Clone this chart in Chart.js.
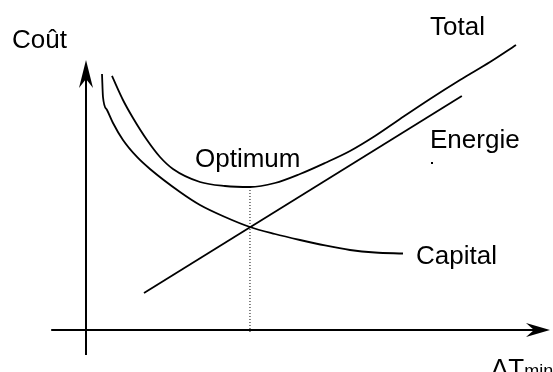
<!DOCTYPE html>
<html>
<head>
<meta charset="utf-8">
<script src="https://cdn.jsdelivr.net/npm/chart.js@4/dist/chart.umd.min.js"></script>
<style>
html,body{margin:0;padding:0;background:#fff;}
#wrap{width:553px;height:372px;}
</style>
</head>
<body>
<div id="wrap"><canvas id="c" width="553" height="372"></canvas></div>
<script>
// Data (ΔTmin and cost in arbitrary units)
const capitalX = [0.345, 0.366, 0.453, 0.582, 0.797, 1.099, 1.379, 2.026, 2.457, 2.996, 3.534, 4.073, 4.612, 5.151, 5.690, 6.228, 6.832];
const capitalY = [8.533, 7.767, 7.333, 6.900, 6.333, 5.767, 5.367, 4.600, 4.167, 3.767, 3.433, 3.200, 3.000, 2.817, 2.667, 2.583, 2.550];
const totalX = [0.560, 0.797, 1.013, 1.315, 1.595, 1.875, 2.457, 2.996, 3.534, 4.073, 4.612, 5.151, 5.690, 6.228, 6.767, 7.414, 8.060, 8.707, 9.267];
const totalY = [8.467, 7.667, 7.067, 6.333, 5.767, 5.367, 4.933, 4.800, 4.767, 4.900, 5.200, 5.567, 5.967, 6.467, 7.033, 7.700, 8.333, 8.933, 9.500];
const energyX = [1.25, 8.10];
const energyY = [1.23, 7.80];
const optimumX = [3.534, 3.534];
const optimumY = [4.767, -0.10];
const axisXRange = [-0.75, 10];
const axisYRange = [-0.83, 9];
const labels = {
  yTitle: "Coût", total: "Total", energy: "Energie", capital: "Capital",
  optimum: "Optimum", xTitle: "ΔT", xSub: "min"
};

const pts = (xs, ys) => xs.map((x, i) => ({x, y: ys[i]}));

const axesPlugin = {
  id: 'axesArrows',
  beforeDatasetsDraw(chart) {
    const ctx = chart.ctx, xs = chart.scales.x, ys = chart.scales.y;
    const x0 = xs.getPixelForValue(0), y0 = ys.getPixelForValue(0);
    const xl = xs.getPixelForValue(axisXRange[0]), xr = xs.getPixelForValue(axisXRange[1]);
    const yb = ys.getPixelForValue(axisYRange[0]), yt = ys.getPixelForValue(axisYRange[1]);
    ctx.save();
    ctx.strokeStyle = '#000'; ctx.fillStyle = '#000'; ctx.lineWidth = 2;
    ctx.beginPath();
    ctx.moveTo(xl, y0); ctx.lineTo(xr - 10, y0);
    ctx.moveTo(x0, yb); ctx.lineTo(x0, yt + 10);
    ctx.stroke();
    ctx.beginPath();
    ctx.moveTo(xr, y0); ctx.lineTo(xr - 24, y0 - 7); ctx.lineTo(xr - 16, y0); ctx.lineTo(xr - 24, y0 + 7); ctx.closePath();
    ctx.fill();
    ctx.beginPath();
    ctx.moveTo(x0, yt); ctx.lineTo(x0 - 7, yt + 28); ctx.lineTo(x0, yt + 19); ctx.lineTo(x0 + 7, yt + 28); ctx.closePath();
    ctx.fill();
    ctx.restore();
  },
  afterDatasetsDraw(chart) {
    const ctx = chart.ctx;
    ctx.save();
    ctx.fillStyle = '#000';
    ctx.textBaseline = 'alphabetic';
    ctx.textAlign = 'left';
    ctx.font = '26px "Liberation Sans", Arial, sans-serif';
    ctx.fillText(labels.yTitle, 12, 48);
    ctx.fillText(labels.total, 430, 35);
    ctx.fillText(labels.energy, 430, 148);
    ctx.fillText(labels.optimum, 195, 167);
    ctx.fillText(labels.capital, 416, 264);
    ctx.fillText(labels.xTitle, 491, 377);
    const w = ctx.measureText(labels.xTitle).width;
    ctx.font = '18px "Liberation Sans", Arial, sans-serif';
    ctx.fillText(labels.xSub, 491 + w, 377);
    ctx.fillRect(431, 162, 2, 2);
    ctx.restore();
  }
};

const lineDs = (data, extra) => Object.assign({
  data, showLine: true, borderColor: '#000', borderWidth: 1.8, pointRadius: 0,
  pointHoverRadius: 0, fill: false, clip: false, tension: 0.3,
  cubicInterpolationMode: 'monotone'
}, extra || {});

new Chart(document.getElementById('c'), {
  type: 'scatter',
  data: {
    datasets: [
      lineDs(pts(capitalX, capitalY), {label: labels.capital}),
      lineDs(pts(totalX, totalY), {label: labels.total}),
      lineDs(pts(energyX, energyY), {label: labels.energy, tension: 0, cubicInterpolationMode: 'default'}),
      lineDs(pts(optimumX, optimumY), {label: labels.optimum, tension: 0, cubicInterpolationMode: 'default', borderWidth: 1, borderDash: [1, 2]})
    ]
  },
  options: {
    responsive: false, animation: false, events: [],
    layout: {padding: {left: 86, top: 60, right: 3, bottom: 42}},
    plugins: {legend: {display: false}, tooltip: {enabled: false}, title: {display: false}},
    scales: {
      x: {type: 'linear', min: 0, max: 10, display: false},
      y: {type: 'linear', min: 0, max: 9, display: false}
    }
  },
  plugins: [axesPlugin]
});
</script>
</body>
</html>
